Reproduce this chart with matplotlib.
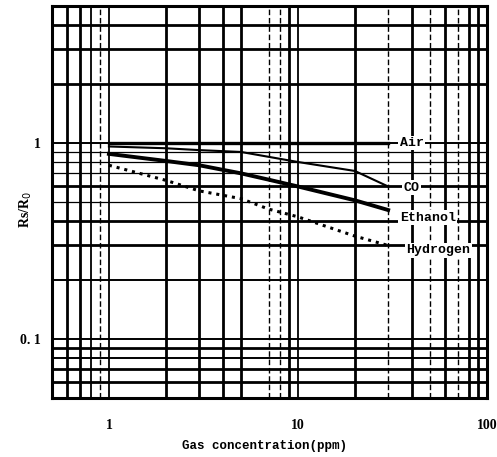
import matplotlib
matplotlib.use("Agg")
import matplotlib.pyplot as plt

# sensitivity curves
conc = [1, 2, 3, 5, 7, 10, 20, 30]
air = [1.0, 1.0, 1.0, 1.0, 1.0, 1.0, 1.0, 1.0]
co = [0.96, 0.94, 0.92, 0.90, 0.85, 0.80, 0.72, 0.60]
ethanol = [0.88, 0.81, 0.77, 0.70, 0.65, 0.60, 0.51, 0.455]
hydrogen = [0.77, 0.645, 0.57, 0.52, 0.46, 0.42, 0.335, 0.30]

gas_names = ["Air", "CO", "Ethanol", "Hydrogen"]
x_ticks = [1, 10, 100]
x_ticklabels = ["1", "10", "100"]
y_ticks = [0.1, 1]
y_ticklabels = ["0. 1", "1"]

# log paper grid, drawn by hand like the scan
xgrid_heavy = [0.6, 0.7, 2, 3, 4, 5, 9, 20, 40, 60, 80, 90]
xgrid_medium = [0.8, 1, 10]
xgrid_dashed = [0.9, 7, 8, 30, 50, 70]
ygrid_heavy = [4, 3, 2, 0.6, 0.4, 0.3, 0.09, 0.07, 0.06]
ygrid_medium = [1, 0.2, 0.1, 0.08]
ygrid_thin = [0.9, 0.8, 0.7, 0.5]

fig = plt.figure(figsize=(4.97, 4.57), dpi=100)
ax = fig.add_axes([52 / 497, 1 - 398 / 457, 435 / 497, 392 / 457])
ax.set_xscale("log")
ax.set_yscale("log")
ax.set_xlim(0.5, 100)
ax.set_ylim(0.05, 5)

for v in xgrid_heavy:
    ax.axvline(v, color="black", lw=2.0, zorder=1)
for v in xgrid_medium:
    ax.axvline(v, color="black", lw=1.3, zorder=1)
for v in xgrid_dashed:
    ax.axvline(v, color="black", lw=1.0, ls=(0, (4, 2)), zorder=1)
for v in ygrid_heavy:
    ax.axhline(v, color="black", lw=2.0, zorder=1)
for v in ygrid_medium:
    ax.axhline(v, color="black", lw=1.4, zorder=1)
for v in ygrid_thin:
    ax.axhline(v, color="black", lw=0.9, zorder=1)

ax.plot(conc, air, color="black", lw=2.4, zorder=3)
ax.plot(conc, co, color="black", lw=1.5, zorder=3)
ax.plot(conc, ethanol, color="black", lw=2.8, zorder=3)
ax.plot(conc, hydrogen, color="black", lw=2.2, ls=(0, (1, 1.6)), zorder=3)

lab_font = dict(family="Liberation Mono", weight="bold", size=9.5)
box = dict(facecolor="white", edgecolor="none", pad=1.0)
ax.text(40, 1.0, gas_names[0], ha="center", va="center", bbox=box, zorder=4, **lab_font)
ax.text(40, 0.59, gas_names[1], ha="center", va="center", bbox=box, zorder=4, **lab_font)
ax.text(34.5, 0.415, gas_names[2], ha="left", va="center", bbox=box, zorder=4, **lab_font)
ax.text(37.5, 0.284, gas_names[3], ha="left", va="center", bbox=box, zorder=4, **lab_font)

ax.set_xticks(x_ticks)
ax.set_xticklabels(x_ticklabels, family="Liberation Serif", weight="bold", fontsize=10)
ax.set_yticks(y_ticks)
ax.set_yticklabels(y_ticklabels, family="Liberation Serif", weight="bold", fontsize=10)
ax.minorticks_off()
ax.tick_params(axis="x", length=0, pad=15)
ax.tick_params(axis="y", length=0, pad=8)

for s in ax.spines.values():
    s.set_linewidth(2.2)
    s.set_zorder(5)

fig.text(265 / 497, 1 - 446 / 457, "Gas concentration(ppm)", ha="center", va="center",
         family="Liberation Mono", weight="bold", fontsize=9)
fig.text(26 / 497, 1 - 210 / 457, "Rs/R$_0$", rotation=90, ha="center", va="center",
         family="Liberation Serif", weight="bold", fontsize=10)

fig.savefig("out.png", dpi=100)
